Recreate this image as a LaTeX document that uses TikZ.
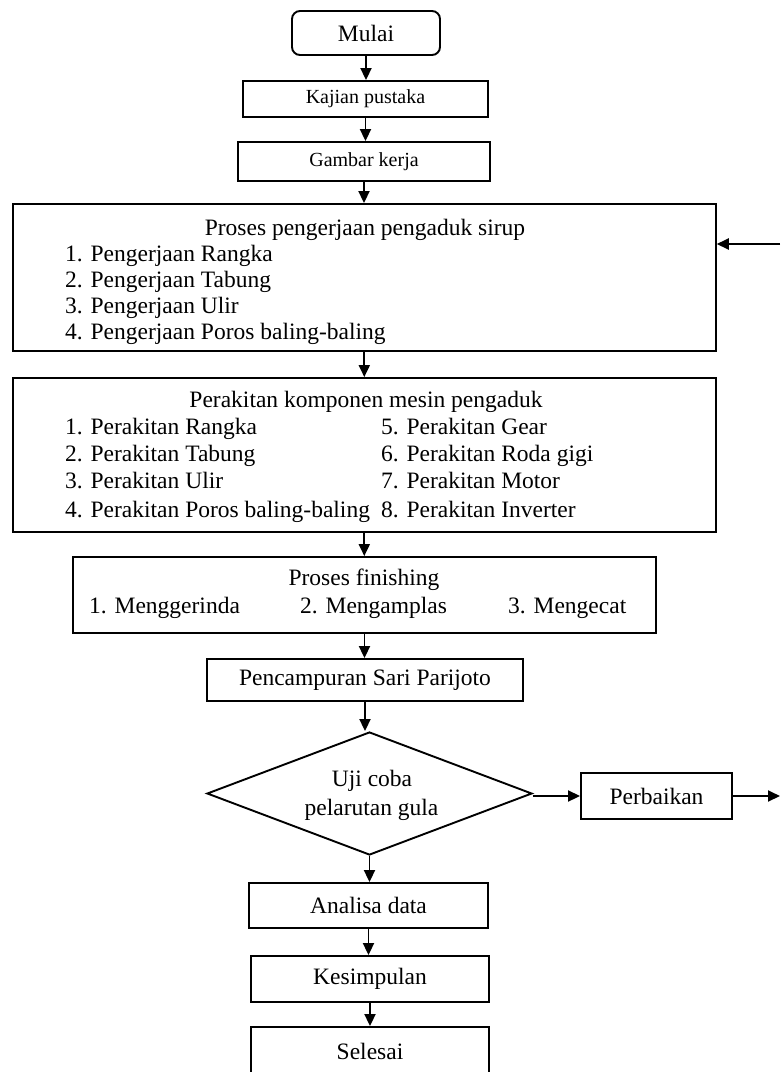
\documentclass[tikz,border=0pt]{standalone}
\usepackage{fontspec}
\setmainfont{Liberation Serif}
\usetikzlibrary{arrows.meta,shapes.geometric}
\begin{document}
\begin{tikzpicture}[x=1pt,y=-1pt,
  box/.style={draw,line width=1.9pt,inner sep=0pt,font=\fontsize{23.5}{26}\selectfont},
  arr/.style={line width=1.9pt,-{Triangle[length=12pt,width=11pt]}},
  txt/.style={inner sep=0pt,anchor=base west,font=\fontsize{23.5}{26}\selectfont},
  ctxt/.style={inner sep=0pt,anchor=base,font=\fontsize{23.5}{26}\selectfont}]
\useasboundingbox (0,0) rectangle (780,1072);
\clip (0,0) rectangle (780,1072);
% boxes
\node[box,rounded corners=8pt,minimum width=148pt,minimum height=44pt] (mulai) at (366,33) {Mulai};
\node[box,minimum width=245pt,minimum height=36pt,font=\fontsize{20}{22}\selectfont] (kajian) at (365.5,99) {Kajian pustaka};
\node[box,minimum width=252pt,minimum height=39pt,font=\fontsize{20}{22}\selectfont] (gambar) at (364,161.5) {Gambar kerja};
\node[box,minimum width=703pt,minimum height=147pt] (proses) at (364.3,277.5) {};
\node[box,minimum width=703pt,minimum height=154pt] (rakit) at (364.3,455) {};
\node[box,minimum width=583pt,minimum height=76pt] (finish) at (364.5,595) {};
\node[box,minimum width=316pt,minimum height=42pt] (campur) at (365,680) {Pencampuran Sari Parijoto};
\node[box,shape=diamond,shape aspect=2.64,minimum width=325pt,minimum height=123pt] (uji) at (369.5,793.5) {};
\node[box,minimum width=151pt,minimum height=46pt] (perbaikan) at (656.5,796) {Perbaikan};
\node[box,minimum width=239pt,minimum height=45pt] (analisa) at (368.5,905.5) {Analisa data};
\node[box,minimum width=238pt,minimum height=46pt] (simpul) at (370,979) {Kesimpulan};
\node[box,minimum width=238pt,minimum height=48pt] (selesai) at (370,1051) {Selesai};
% texts box 1
\node[ctxt] (p0) at (365,235) {Proses pengerjaan pengaduk sirup};
\node[txt] (p1) at (65,261) {1. Pengerjaan Rangka};
\node[txt] (p2) at (65,287) {2. Pengerjaan Tabung};
\node[txt] (p3) at (65,313) {3. Pengerjaan Ulir};
\node[txt] (p4) at (65,339) {4. Pengerjaan Poros baling-baling};
% texts box 2
\node[ctxt] (r0) at (366,407) {Perakitan komponen mesin pengaduk};
\node[txt] (r1) at (65,434) {1. Perakitan Rangka};
\node[txt] (r2) at (65,461) {2. Perakitan Tabung};
\node[txt] (r3) at (65,488) {3. Perakitan Ulir};
\node[txt] (r4) at (65,517) {4. Perakitan Poros baling-baling};
\node[txt] (r5) at (381,434) {5. Perakitan Gear};
\node[txt] (r6) at (381,461) {6. Perakitan Roda gigi};
\node[txt] (r7) at (381,488) {7. Perakitan Motor};
\node[txt] (r8) at (381,517) {8. Perakitan Inverter};
% texts box 3
\node[ctxt] (f0) at (364,585) {Proses finishing};
\node[txt] (f1) at (89,613) {1. Menggerinda};
\node[txt] (f2) at (300,613) {2. Mengamplas};
\node[txt] (f3) at (508,613) {3. Mengecat};
% diamond text
\node[ctxt] (u1) at (372,786) {Uji coba};
\node[ctxt] (u2) at (371.5,815) {pelarutan gula};
% free ends
\coordinate (outR) at (780,796);
\coordinate (inR) at (780,244);
% connectors
\draw[arr] (mulai.south) -- (mulai.south |- kajian.north);
\draw[arr] (kajian.south) -- (kajian.south |- gambar.north);
\draw[arr] (gambar.south) -- (gambar.south |- proses.north);
\draw[arr] (proses.south) -- (proses.south |- rakit.north);
\draw[arr] (rakit.south) -- (rakit.south |- finish.north);
\draw[arr] (finish.south) -- (finish.south |- campur.north);
\draw[arr] (campur.south) -- (campur.south |- uji.north);
\draw[arr] (uji.south) -- (uji.south |- analisa.north);
\draw[arr] (analisa.south) -- (analisa.south |- simpul.north);
\draw[arr] (simpul.south) -- (simpul.south |- selesai.north);
\draw[arr] (uji.east |- perbaikan.west) -- (perbaikan.west);
\draw[arr] (perbaikan.east) -- (outR);
\draw[arr] (inR) -- (inR -| proses.east);
\end{tikzpicture}
\end{document}
